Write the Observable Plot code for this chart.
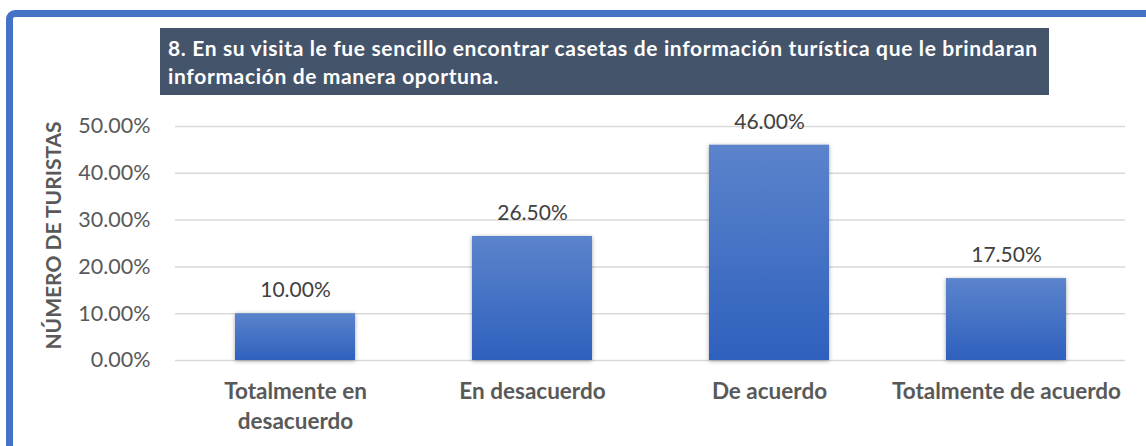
<!DOCTYPE html>
<html><head><meta charset="utf-8">
<script src="https://cdn.jsdelivr.net/npm/d3@7"></script>
<script src="https://cdn.jsdelivr.net/npm/@observablehq/plot@0.6"></script>
<style>
body{margin:0;background:#fff;}
#wrap{position:relative;width:1146px;height:446px;overflow:hidden;background:#fff;font-family:Lato,sans-serif;}
#frame{position:absolute;left:6px;top:10px;width:1200px;height:500px;border:7px solid #4472C4;border-radius:9px;box-sizing:border-box;}
#title{position:absolute;left:160px;top:28px;width:889px;height:67px;background:#44546A;color:#fff;font-weight:bold;font-size:21px;letter-spacing:0.65px;line-height:28px;padding:6px 0 0 8px;box-sizing:border-box;white-space:pre;}
#chart{position:absolute;left:0;top:0;}
</style></head>
<body><div id="wrap"><div id="frame"></div><div id="chart"></div><div id="title"></div></div>
<script>
const titleLines = ["8. En su visita le fue sencillo encontrar casetas de información turística que le brindaran", "información de manera oportuna."];
const yLabel = "NÚMERO DE TURISTAS";
const categories = ["Totalmente en desacuerdo", "En desacuerdo", "De acuerdo", "Totalmente de acuerdo"];
const categoryLabels = ["Totalmente en\ndesacuerdo", "En desacuerdo", "De acuerdo", "Totalmente de acuerdo"];
const values = [0.10, 0.265, 0.46, 0.175];
const yTicks = [0, 0.1, 0.2, 0.3, 0.4, 0.5];

const data = categories.map((c, i) => ({cat: c, value: values[i]}));
const pct = d => (d * 100).toFixed(2) + "%";

document.getElementById("title").textContent = titleLines.join("\n");

const chart = Plot.plot({
  width: 1146, height: 446,
  marginLeft: 175, marginRight: 21, marginTop: 126, marginBottom: 86,
  style: {fontFamily: "Lato, sans-serif", background: "transparent", overflow: "visible"},
  x: {domain: categories, paddingInner: 0.495, paddingOuter: 0.2475, label: null},
  y: {domain: [0, 0.5], label: null},
  marks: [
    Plot.gridY(yTicks, {stroke: "#D9D9D9", strokeOpacity: 1, strokeWidth: 1.5}),
    Plot.axisY({ticks: yTicks, tickSize: 0, tickPadding: 25, tickFormat: pct, fontSize: 21.5, fill: "#595959", label: null}),
    Plot.text([yLabel], {frameAnchor: "left", textAnchor: "middle", rotate: -90, dx: -121.5, dy: -8, fontSize: 21, fontWeight: "bold", fill: "#595959"}),
    Plot.axisX({tickSize: 0, tickPadding: 17, tickFormat: d => categoryLabels[categories.indexOf(d)], fontSize: 22.5, fontWeight: "bold", fill: "#595959", lineHeight: 1.33, label: null}),
    Plot.barY(data, {x: "cat", y: "value", fill: "url(#barGrad)"}),
    Plot.text(data, {x: "cat", y: "value", text: d => pct(d.value), dy: -23, fontSize: 21, fill: "#404040"})
  ]
});

const defs = d3.select(chart).insert("defs", ":first-child");
const g = defs.append("linearGradient").attr("id", "barGrad").attr("x1", 0).attr("y1", 0).attr("x2", 0).attr("y2", 1);
g.append("stop").attr("offset", "0%").attr("stop-color", "#5B84CC");
g.append("stop").attr("offset", "100%").attr("stop-color", "#2F60BD");
d3.select(chart).selectAll("rect").style("filter", "drop-shadow(0px 1px 2px rgba(0,0,0,0.35))");

document.getElementById("chart").appendChild(chart);
</script>
</body></html>
